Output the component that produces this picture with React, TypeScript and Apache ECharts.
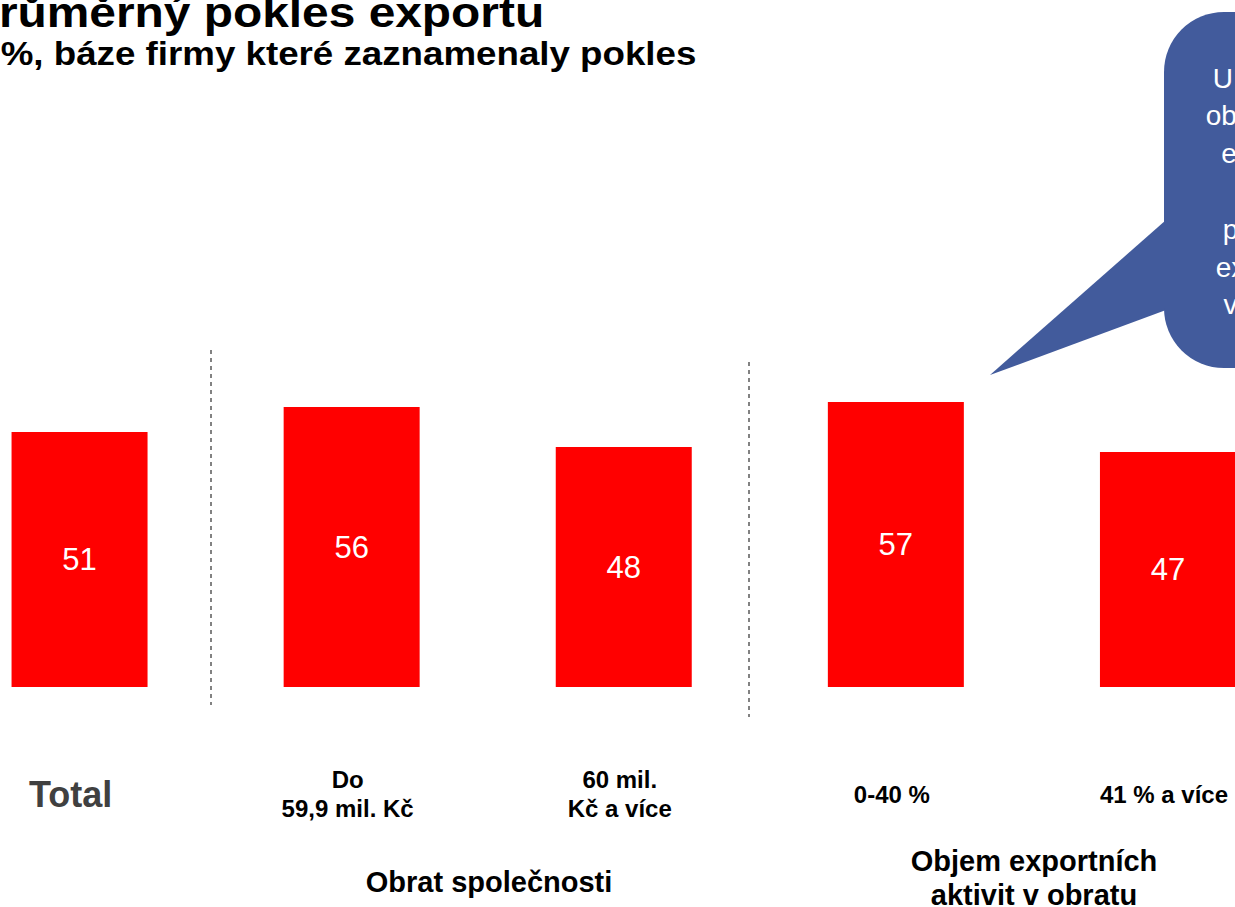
import React, { useEffect, useRef } from "react";
import * as echarts from "echarts";

const categories = ["Total", "Do\n59,9 mil. Kč", "60 mil.\nKč a více", "0-40 %", "41 % a více"];
const values = [51, 56, 48, 57, 47];
const groupLabels = ["Obrat společnosti", "Objem exportních\naktivit v obratu"];
const titleText = "Průměrný pokles exportu";
const subtitleText = "V %, báze firmy které zaznamenaly pokles";
const calloutLines = [
  "U firem s nižším",
  "obratem a nižším",
  "exportem bývá",
  "vyšší",
  "pokles objemu",
  "exportu, zhruba",
  "v řádu 10 p. b.",
];

const FONT = "'Liberation Sans', Arial, sans-serif";

export default function App() {
  const ref = useRef<HTMLDivElement>(null);
  useEffect(() => {
    if (!ref.current) return;
    const chart = echarts.init(ref.current, undefined, { renderer: "svg" });
    chart.setOption({
      animation: false,
      textStyle: { fontFamily: FONT },
      grid: { left: -56.5, right: -69, top: 187, bottom: 220, outerBoundsMode: "none" },
      xAxis: {
        type: "category",
        data: categories,
        axisLine: { show: false },
        axisTick: { show: false },
        axisLabel: {
          margin: 107,
          verticalAlign: "middle",
          interval: 0,
          formatter: (v: string, i: number) => (i === 0 ? `{t|${v}}` : `{c|${v}}`),
          rich: {
            t: { fontSize: 36, fontWeight: "bold", color: "#404040", fontFamily: FONT, padding: [0, 18, 0, 0] },
            c: { fontSize: 24, fontWeight: "bold", color: "#000", lineHeight: 29, fontFamily: FONT, align: "center", padding: [0, 8, 0, 0] },
          },
        },
      },
      yAxis: { type: "value", min: 0, max: 100, show: false, splitLine: { show: false } },
      series: [
        {
          type: "bar",
          data: values,
          barWidth: 136,
          itemStyle: { color: "#FF0000" },
          label: { show: true, position: "inside", color: "#fff", fontSize: 31, fontFamily: FONT },
        },
      ],
      graphic: [
        { type: "text", x: -33, y: 12.4, scaleX: 1.14, style: { text: titleText, fill: "#000", font: `bold 42px ${FONT}`, verticalAlign: "middle" } },
        { type: "text", x: -34, y: 53.2, scaleX: 1.08, style: { text: subtitleText, fill: "#000", font: `bold 34px ${FONT}`, verticalAlign: "middle" } },
        { type: "line", shape: { x1: 211, y1: 350, x2: 211, y2: 705 }, style: { stroke: "#595959", lineWidth: 1.5, lineDash: [4, 4] } },
        { type: "line", shape: { x1: 749, y1: 362, x2: 749, y2: 717 }, style: { stroke: "#595959", lineWidth: 1.5, lineDash: [4, 4] } },
        { type: "text", x: 489, y: 882, style: { text: groupLabels[0], font: `bold 29px ${FONT}`, fill: "#000", align: "center", verticalAlign: "middle" } },
        { type: "text", x: 1034, y: 878, style: { text: groupLabels[1], font: `bold 29px ${FONT}`, fill: "#000", align: "center", verticalAlign: "middle", lineHeight: 34 } },
        { type: "polygon", shape: { points: [[1166, 220], [990, 375], [1166, 310]] }, style: { fill: "#425B9C" } },
        { type: "rect", shape: { x: 1164, y: 12, width: 302, height: 356, r: 60 }, style: { fill: "#425B9C" } },
        { type: "text", x: 1313, y: 191.5, style: { text: calloutLines.join("\n"), font: `28px ${FONT}`, fill: "#fff", align: "center", verticalAlign: "middle", lineHeight: 37.8 } },
      ],
    });
    return () => chart.dispose();
  }, []);
  return (
    <div style={{ position: "fixed", left: 0, top: 0, width: 1235, height: 907, overflow: "hidden", background: "#fff" }}>
      <div ref={ref} style={{ width: 1235, height: 907 }} />
    </div>
  );
}
